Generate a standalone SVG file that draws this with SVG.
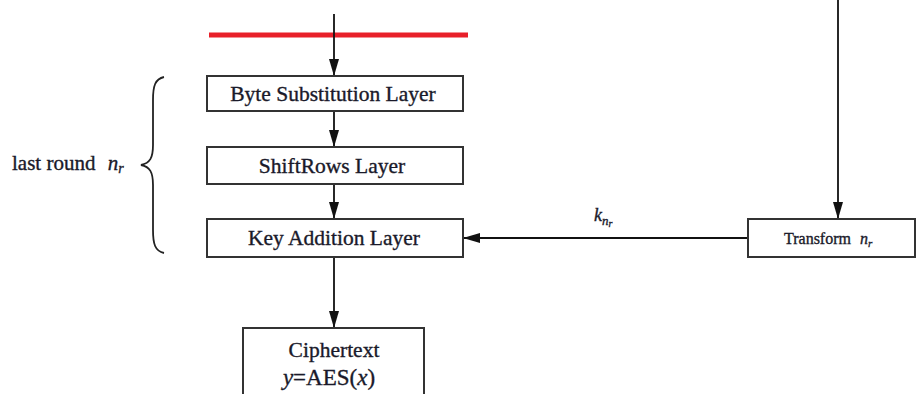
<svg xmlns="http://www.w3.org/2000/svg" width="919" height="394" viewBox="0 0 919 394">
  <defs>
    <marker id="arrow" markerUnits="userSpaceOnUse" markerWidth="18" markerHeight="12" refX="17" refY="6" orient="auto">
      <path d="M0,1 L17,6 L0,11 Z" fill="#111"/>
    </marker>
    <style>
      text { font-family: 'Liberation Serif', 'DejaVu Serif', serif; fill: #1a1a2a; stroke: #1a1a2a; stroke-width: 0.35; }
      .lbl { font-size: 21.5px; text-anchor: middle; }
      .it { font-style: italic; }
      .box { fill: #fff; stroke: #333; stroke-width: 2; }
      .wire { fill: none; stroke: #111; stroke-width: 1.8; }
    </style>
  </defs>
  <rect width="919" height="394" fill="#fff"/>

  <!-- round separator -->
  <line x1="209" y1="35" x2="468" y2="35" stroke="#e8202a" stroke-width="5"/>

  <!-- connectors -->
  <g id="connectors">
    <line class="wire" x1="334" y1="14" x2="334" y2="76" marker-end="url(#arrow)"/>
    <line class="wire" x1="334" y1="111" x2="334" y2="147" marker-end="url(#arrow)"/>
    <line class="wire" x1="334" y1="184" x2="334" y2="219" marker-end="url(#arrow)"/>
    <line class="wire" x1="334" y1="257" x2="334" y2="328" marker-end="url(#arrow)"/>
    <line class="wire" x1="838" y1="0" x2="838" y2="219" marker-end="url(#arrow)"/>
    <line class="wire" x1="748" y1="238" x2="463" y2="238" marker-end="url(#arrow)"/>
    <text x="594" y="221" class="it" style="font-size:18px">k<tspan style="font-size:13px" dy="4">n</tspan><tspan style="font-size:10px" dy="2">r</tspan></text>
  </g>

  <!-- brace for last round -->
  <g id="last-round">
    <path d="M164,77 C155,79 153,86 153,100 L153,145 C153,158 150,163 141,165 C150,167 153,172 153,185 L153,230 C153,244 155,251 164,253" fill="none" stroke="#222" stroke-width="1.8"/>
    <text x="12" y="170" style="font-size:21px">last round <tspan class="it" dx="7">n</tspan><tspan class="it" style="font-size:14px" dy="3">r</tspan></text>
  </g>

  <g id="byte-sub">
    <rect class="box" x="207" y="76" width="256" height="35"/>
    <text x="333" y="101" class="lbl">Byte Substitution Layer</text>
  </g>

  <g id="shift-rows">
    <rect class="box" x="207" y="147" width="256" height="37"/>
    <text x="332" y="173" class="lbl">ShiftRows Layer</text>
  </g>

  <g id="key-add">
    <rect class="box" x="207" y="219" width="256" height="38"/>
    <text x="334" y="245" class="lbl">Key Addition Layer</text>
  </g>

  <g id="transform">
    <rect class="box" x="748" y="219" width="167" height="38"/>
    <text x="784" y="244" style="font-size:16px">Transform <tspan class="it" dx="5">n</tspan><tspan class="it" style="font-size:11px" dy="3">r</tspan></text>
  </g>

  <g id="ciphertext">
    <rect class="box" x="243" y="328" width="181" height="72"/>
    <text x="334" y="357" class="lbl">Ciphertext</text>
    <text x="329" y="385" class="lbl" style="font-size:23px"><tspan class="it">y</tspan>=AES(<tspan class="it">x</tspan>)</text>
  </g>
</svg>
